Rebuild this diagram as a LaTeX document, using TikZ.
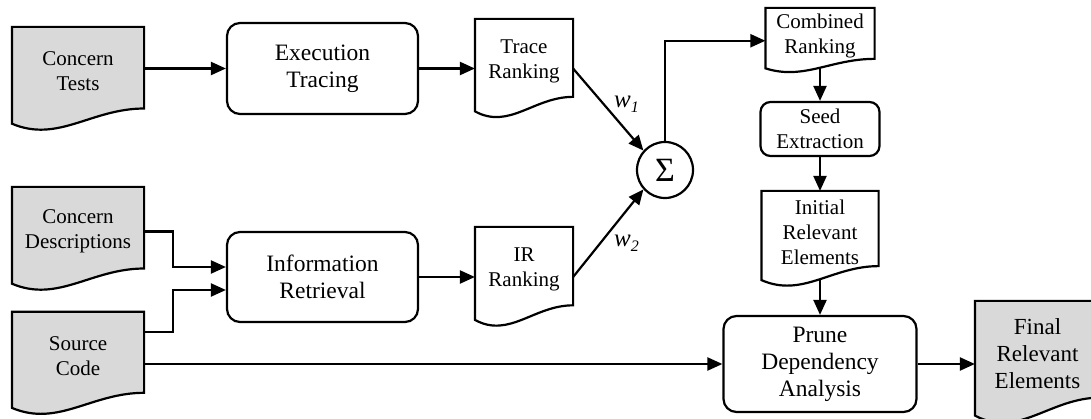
\documentclass[tikz,border=0pt]{standalone}
\usepackage{fontspec}
\setmainfont{Liberation Serif}
\usetikzlibrary{arrows.meta,calc}
\pgfdeclarelayer{background}
\pgfsetlayers{background,main}
\definecolor{docgray}{RGB}{217,217,217}
\newcommand\docpath[2]{%
 \path[docline,fill=#2] let \p1=(#1.north west), \p2=(#1.south east) in
  (\x1,\y1) -- (\x2,\y1) -- (\x2,{\y2+0.085*(\y1-\y2)})
  .. controls ({\x1+0.6*(\x2-\x1)},{\y2+0.085*(\y1-\y2)}) and ({\x1+0.35*(\x2-\x1)},{\y2-0.305*(\y1-\y2)})
  .. (\x1,{\y2-0.085*(\y1-\y2)}) -- cycle;}
\begin{document}
\begin{tikzpicture}[x=1pt,y=-1pt,
  line width=2.2pt,
  arr/.style={-{Triangle[length=15pt,width=13pt]}, line width=2.2pt},
  proc/.style={draw, fill=white, rounded corners=13pt, align=center, inner sep=0pt, line width=2.2pt, font=\fontsize{23.5}{27}\selectfont},
  docnode/.style={inner sep=0pt, align=center, font=\fontsize{21}{25}\selectfont},
  docline/.style={draw=black, line width=2.2pt, line join=miter},
  wlabel/.style={anchor=base west, inner sep=0pt},
]
\useasboundingbox (0,0) rectangle (1091,419);

\node[docnode, minimum width=130pt, minimum height=87pt] (ct) at (78,71.5) {Concern\\Tests};
\node[docnode, minimum width=130pt, minimum height=87pt] (cd) at (78,231.5) {Concern\\Descriptions};
\node[docnode, minimum width=130pt, minimum height=86.5pt] (sc) at (78,356) {Source\\Code};
\node[proc, minimum width=191pt, minimum height=91pt] (exec) at (322.5,68.5) {Execution\\Tracing};
\node[proc, minimum width=191pt, minimum height=90pt] (ir) at (322.5,277) {Information\\Retrieval};
\node[docnode, minimum width=96pt, minimum height=83pt] (trace) at (524,61.5) {Trace\\Ranking};
\node[docnode, minimum width=96pt, minimum height=83.5pt] (irr) at (524,269.75) {IR\\Ranking};
\node[draw, circle, fill=white, minimum size=56pt, inner sep=0pt, line width=2.2pt, font=\fontsize{34}{34}\selectfont] (sum) at (665,170) {Σ};
\node[docnode, minimum width=107pt, minimum height=53.5pt] (comb) at (820,35.75) {Combined\\Ranking};
\node[proc, rounded corners=10pt, minimum width=119pt, minimum height=54pt, font=\fontsize{21}{25}\selectfont] (seed) at (820,129) {Seed\\Extraction};
\node[docnode, minimum width=115pt, minimum height=80pt] (init) at (820,232) {Initial\\Relevant\\Elements};
\node[proc, minimum width=193pt, minimum height=96pt] (prune) at (820,364) {Prune\\Dependency\\Analysis};
\node[docnode, minimum width=123pt, minimum height=103.5pt, font=\fontsize{23}{27}\selectfont] (final) at (1037.5,353.75) {Final\\Relevant\\Elements};

\node[wlabel] (w1) at (613,108) {{\fontsize{25}{25}\selectfont\itshape w}\raisebox{-5pt}{\fontsize{16}{16}\selectfont\itshape 1}};
\node[wlabel] (w2) at (613,247) {{\fontsize{25}{25}\selectfont\itshape w}\raisebox{-5pt}{\fontsize{16}{16}\selectfont\itshape 2}};

\begin{pgfonlayer}{background}
\draw[arr] (exec.west -| ct.east) -- (exec.west);
\draw[arr] (cd.east) -- ++(29,0) |- ([yshift=10pt]ir.west);
\draw[arr] ([yshift=24pt]sc.east) -- ++(29,0) |- ([yshift=-13pt]ir.west);
\draw[arr] (prune.west -| sc.east) -- (prune.west);
\draw[arr] (exec.east) -- (exec.east -| trace.west);
\draw[arr] (ir.east) -- (ir.east -| irr.west);
\draw[arr] (exec.east -| trace.east) -- (sum.138);
\draw[arr] (ir.east -| irr.east) -- (sum.222);
\draw[arr] (sum.north) |- ([yshift=-5pt]comb.west);
\draw[arr] (comb.south) -- (seed.north);
\draw[arr] (seed.south) -- (init.north);
\draw[arr] (init.south) -- (prune.north);
\draw[arr] (prune.east) -- (prune.east -| final.west);
\docpath{ct}{docgray}
\docpath{cd}{docgray}
\docpath{sc}{docgray}
\docpath{trace}{white}
\docpath{irr}{white}
\docpath{comb}{white}
\docpath{init}{white}
\docpath{final}{docgray}
\end{pgfonlayer}
\end{tikzpicture}
\end{document}
